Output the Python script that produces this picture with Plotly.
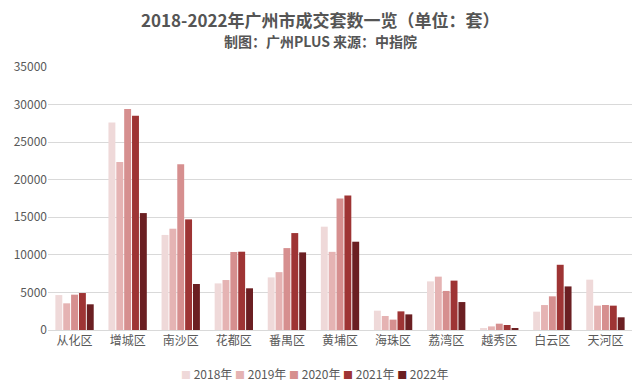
import plotly.graph_objects as go

districts = ["从化区", "增城区", "南沙区", "花都区", "番禺区", "黄埔区", "海珠区", "荔湾区", "越秀区", "白云区", "天河区"]
years = ["2018年", "2019年", "2020年", "2021年", "2022年"]
v2018 = [4650, 27600, 12650, 6200, 7000, 13750, 2570, 6470, 230, 2440, 6700]
v2019 = [3550, 22350, 13480, 6650, 7700, 10400, 1860, 7100, 480, 3320, 3240]
v2020 = [4700, 29400, 22060, 10380, 10900, 17500, 1380, 5200, 840, 4480, 3330]
v2021 = [4920, 28500, 14720, 10420, 12900, 17900, 2480, 6570, 670, 8680, 3240]
v2022 = [3420, 15560, 6120, 5550, 10330, 11750, 2080, 3720, 230, 5800, 1690]
series = [v2018, v2019, v2020, v2021, v2022]
colors = ["#efd9d9", "#e5b3b3", "#d68f8f", "#9e3434", "#6b1f22"]

# page body adds an 8px offset; compensate so window pixels match the reference
OFF = 8
W, H = 641, 390
L, R, T, B = 48 - OFF, 9 + OFF, 67 - OFF, 60 + OFF
pw, ph = W - L - R, H - T - B

def px_x(x):
    return (x - OFF - L) / pw

def px_y(y):
    return (H - B - (y - OFF)) / ph

fig = go.Figure()
for name, vals, c in zip(years, series, colors):
    fig.add_trace(go.Bar(x=districts, y=vals, name=name, marker_color=c, marker_line_width=0))

font = "Noto Sans CJK SC"
fig.update_layout(
    width=W, height=H,
    margin=dict(l=L, r=R, t=T, b=B, autoexpand=False),
    paper_bgcolor="white", plot_bgcolor="white",
    font=dict(family=font, color="#595959", size=12),
    barmode="group", bargap=0.26, bargroupgap=0.12,
    showlegend=False,
)
fig.add_annotation(text="<b>2018-2022年广州市成交套数一览（单位：套）</b>", xref="paper", yref="paper",
                   x=px_x(320), y=px_y(19), showarrow=False, borderpad=0,
                   xanchor="center", yanchor="middle", font=dict(size=17, color="#555555", family=font))
fig.add_annotation(text="<b>制图：广州PLUS 来源：中指院</b>", xref="paper", yref="paper",
                   x=px_x(320), y=px_y(41.5), showarrow=False, borderpad=0,
                   xanchor="center", yanchor="middle", font=dict(size=14, color="#555555", family=font))

legend_text = " ".join(
    f"<span style='color:{c};font-size:10px'>■</span> {y}" for y, c in zip(years, colors)
)
fig.add_annotation(text=legend_text, xref="paper", yref="paper",
                   x=px_x(314), y=px_y(373), showarrow=False,
                   xanchor="center", yanchor="middle", font=dict(size=12, color="#595959", family=font))

fig.update_yaxes(range=[0, 35000], dtick=5000, tickformat="d", showgrid=True, gridcolor="#d9d9d9",
                 gridwidth=1, zeroline=False, tickfont=dict(size=12, color="#595959"), ticks="",
                 showline=False, automargin=False)
fig.update_xaxes(showline=True, linecolor="#d9d9d9", linewidth=1, ticks="", automargin=False,
                 tickfont=dict(size=12, color="#595959"))
fig.write_html("out.html")
